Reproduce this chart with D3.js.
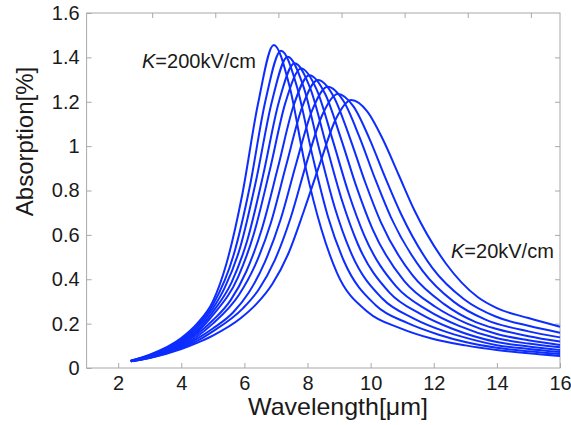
<!DOCTYPE html>
<html>
<head>
<meta charset="utf-8">
<script src="https://cdn.jsdelivr.net/npm/d3@7"></script>
<style>
  body { margin: 0; background: #fff; }
  svg { font-family: "Liberation Sans", Arial, sans-serif; }
  .frame { fill: none; stroke: #a8a8a8; stroke-width: 1; }
  .curve { fill: none; stroke: #0d2dff; stroke-width: 2; stroke-linejoin: round; }
  .label { font-size: 20px; fill: #1a1a1a; }
  .title { font-size: 24px; fill: #1a1a1a; }
</style>
</head>
<body>
<svg id="chart" width="571" height="425"></svg>
<script>
// field strengths, kV/cm (one curve each)
var fields = [200, 180, 160, 140, 120, 100, 80, 60, 40, 20];

// [wavelength um, absorption %]
var abs200 = [[2.4,0.033],[3,0.06],[4,0.135],[4.5,0.2],[5,0.3],[5.43,0.47],[5.93,0.78],[6.43,1.19],[6.93,1.456],[7.43,1.27],[7.93,0.91],[8.43,0.63],[8.93,0.43],[9.93,0.25],[10.93,0.18],[11.93,0.133],[13,0.102],[14,0.081],[15,0.066],[16,0.054]];
var abs180 = [[2.4,0.033],[3,0.058],[4,0.129],[4.5,0.19],[5,0.284],[5.66,0.51],[6.16,0.81],[6.66,1.2],[7.16,1.43],[7.66,1.27],[8.16,0.955],[8.66,0.676],[9.16,0.48],[10.16,0.283],[11.16,0.203],[12.16,0.15],[13,0.117],[14,0.091],[15,0.075],[16,0.063]];
var abs160 = [[2.4,0.032],[3,0.056],[4,0.123],[4.5,0.18],[5,0.268],[5.37,0.36],[5.87,0.545],[6.37,0.845],[6.87,1.2],[7.37,1.403],[7.87,1.269],[8.37,0.987],[8.87,0.72],[9.37,0.522],[10.37,0.313],[11.37,0.223],[12.37,0.164],[13,0.137],[14,0.103],[15,0.086],[16,0.072]];
var abs140 = [[2.4,0.032],[3,0.054],[4,0.117],[4.5,0.17],[5,0.253],[5.59,0.385],[6.09,0.575],[6.59,0.867],[7.09,1.198],[7.59,1.373],[8.09,1.259],[8.59,1.007],[9.09,0.756],[9.59,0.56],[10.59,0.341],[11.59,0.243],[12.59,0.177],[14,0.117],[15,0.097],[16,0.081]];
var abs120 = [[2.4,0.031],[3,0.052],[4,0.111],[4.5,0.161],[5,0.238],[5.8,0.41],[6.3,0.605],[6.8,0.889],[7.3,1.196],[7.8,1.35],[8.3,1.251],[8.8,1.026],[9.3,0.789],[9.8,0.597],[10.8,0.369],[11.8,0.261],[12.8,0.19],[14,0.134],[15,0.11],[16,0.093]];
var abs100 = [[2.4,0.031],[3,0.05],[4,0.106],[4.5,0.152],[5,0.215],[5.56,0.305],[6.06,0.435],[6.56,0.63],[7.06,0.902],[7.56,1.183],[8.06,1.32],[8.56,1.235],[9.06,1.034],[9.56,0.813],[10.06,0.626],[11.06,0.393],[12.06,0.275],[13.06,0.2],[14,0.153],[15,0.125],[16,0.104]];
var abs80 = [[2.4,0.03],[3,0.049],[4,0.1],[4.5,0.142],[5,0.2],[5.83,0.33],[6.33,0.46],[6.83,0.65],[7.33,0.917],[7.83,1.176],[8.33,1.298],[8.83,1.223],[9.33,1.042],[9.83,0.836],[10.33,0.655],[11.33,0.417],[12.33,0.288],[13.33,0.207],[14,0.176],[15,0.143],[16,0.119]];
var abs60 = [[2.4,0.03],[3,0.047],[4,0.095],[4.5,0.132],[5,0.178],[5.64,0.25],[6.14,0.34],[6.64,0.475],[7.14,0.666],[7.64,0.921],[8.14,1.159],[8.64,1.268],[9.14,1.203],[9.64,1.043],[10.14,0.853],[10.64,0.68],[11.64,0.439],[12.64,0.298],[13.64,0.218],[15,0.165],[16,0.138]];
var abs40 = [[2.4,0.03],[3,0.046],[4,0.09],[4.5,0.122],[5,0.165],[5.96,0.27],[6.46,0.355],[6.96,0.485],[7.46,0.675],[7.96,0.92],[8.46,1.138],[8.96,1.235],[9.46,1.178],[9.96,1.034],[10.46,0.859],[10.96,0.695],[11.96,0.45],[12.96,0.31],[13.96,0.232],[15,0.19],[16,0.159]];
var abs20 = [[2.4,0.03],[3,0.045],[4,0.085],[4.5,0.113],[5,0.146],[5.89,0.225],[6.39,0.29],[6.89,0.38],[7.39,0.515],[7.89,0.71],[8.39,0.92],[8.89,1.12],[9.39,1.208],[9.89,1.157],[10.39,1.03],[10.89,0.87],[11.39,0.71],[12.39,0.47],[13.39,0.32],[14,0.27],[15,0.225],[16,0.186]];

var xTicks = [2, 4, 6, 8, 10, 12, 14, 16];
var yTicks = [0, 0.2, 0.4, 0.6, 0.8, 1, 1.2, 1.4, 1.6];

(function(root) {
    var svg, x, y;
    var left = 86.6, right = 560, top = 13, bottom = 368;
    var tickLen = 5;
    var gray = "#a8a8a8";

    function draw() {
        svg = d3.select("#chart");

        x = d3.scaleLinear().domain([1, 16]).range([left, right]);
        y = d3.scaleLinear().domain([0, 1.6]).range([bottom, top]);

        drawFrame();
        drawCurves();
        drawLabels();
    }

    function styleAxis(g) {
        g.select(".domain").remove();
        g.selectAll("line").attr("stroke", gray);
        g.selectAll("text")
            .attr("font-family", "Liberation Sans, Arial, sans-serif")
            .attr("font-size", 20)
            .attr("fill", "#1a1a1a");
    }

    function drawFrame() {
        svg.append("rect")
            .attr("class", "frame")
            .attr("x", left).attr("y", top)
            .attr("width", right - left).attr("height", bottom - top);

        svg.append("g")
            .attr("transform", "translate(0," + bottom + ")")
            .call(d3.axisBottom(x).tickValues(xTicks).tickSize(-tickLen).tickPadding(8).tickFormat(function(d) { return d; }))
            .call(styleAxis);

        svg.append("g")
            .attr("transform", "translate(" + left + ",0)")
            .call(d3.axisLeft(y).tickValues(yTicks).tickSize(-tickLen).tickPadding(7).tickFormat(function(d) { return d; }))
            .call(styleAxis);

        // top ticks in the figure sit about 34px right of the bottom ones
        var xTop = x.copy().range([left + 34, right + 34]);
        svg.append("g")
            .attr("transform", "translate(0," + top + ")")
            .call(d3.axisTop(xTop).tickValues(xTicks.filter(function(d) { return xTop(d) < right; })).tickSize(-tickLen).tickFormat(""))
            .call(styleAxis);

        svg.append("g")
            .attr("transform", "translate(" + right + ",0)")
            .call(d3.axisRight(y).tickValues(yTicks.slice(1, -1)).tickSize(-tickLen).tickFormat(""))
            .call(styleAxis);
    }

    function drawCurves() {
        var series = [abs200, abs180, abs160, abs140, abs120, abs100, abs80, abs60, abs40, abs20];
        var line = d3.line()
            .x(function(d) { return x(d[0]); })
            .y(function(d) { return y(d[1]); })
            .curve(d3.curveMonotoneX);

        svg.append("g").selectAll("path")
            .data(series)
            .enter()
            .append("path")
            .attr("class", "curve")
            .attr("d", line);
    }

    function fieldLabel(px, py, k) {
        var t = svg.append("text").attr("class", "label").attr("x", px).attr("y", py);
        t.append("tspan").attr("font-style", "italic").text("K");
        t.append("tspan").text("=" + k + "kV/cm");
    }

    function drawLabels() {
        fieldLabel(142, 68, fields[0]);
        fieldLabel(451, 258, fields[fields.length - 1]);

        // the x title is drawn wide and short in the figure
        svg.append("text")
            .attr("class", "title")
            .attr("x", 248).attr("y", 415)
            .attr("font-size", 20)
            .attr("textLength", 180)
            .attr("lengthAdjust", "spacingAndGlyphs")
            .text("Wavelength[\u03bcm]");

        svg.append("text")
            .attr("class", "title")
            .attr("transform", "translate(33,141.5) rotate(-90)")
            .attr("text-anchor", "middle")
            .text("Absorption[%]");
    }

    draw();
})(window);
</script>
</body>
</html>
